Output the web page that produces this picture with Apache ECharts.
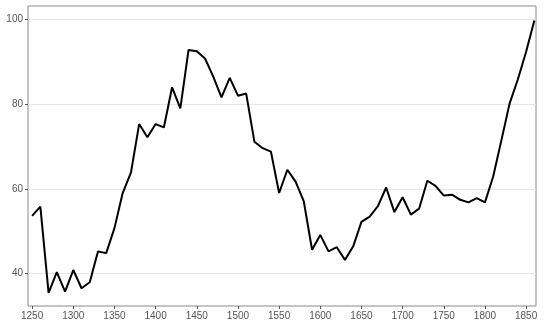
<!DOCTYPE html>
<html><head><meta charset="utf-8">
<script src="https://cdn.jsdelivr.net/npm/echarts@6/dist/echarts.min.js"></script>
<style>html,body{margin:0;padding:0;background:#fff}#c{width:546px;height:328px}</style>
</head><body><div id="c"></div>
<script>
const years = [1250,1260,1270,1280,1290,1300,1310,1320,1330,1340,1350,1360,1370,1380,1390,1400,1410,1420,1430,1440,1450,1460,1470,1480,1490,1500,1510,1520,1530,1540,1550,1560,1570,1580,1590,1600,1610,1620,1630,1640,1650,1660,1670,1680,1690,1700,1710,1720,1730,1740,1750,1760,1770,1780,1790,1800,1810,1820,1830,1840,1850,1860];
const values = [53.6,55.8,35.4,40.3,35.7,40.8,36.5,37.9,45.2,44.8,50.7,59.0,63.8,75.3,72.2,75.3,74.5,84.0,79.0,92.8,92.5,90.8,86.5,81.6,86.2,82.0,82.5,71.1,69.6,68.8,59.0,64.5,61.7,57.0,45.6,49.1,45.2,46.2,43.2,46.4,52.2,53.4,55.9,60.3,54.5,58.0,53.9,55.3,61.9,60.7,58.4,58.6,57.4,56.8,57.8,56.8,62.9,71.5,80.2,85.9,92.4,99.8];
const xTicks = [1250,1300,1350,1400,1450,1500,1550,1600,1650,1700,1750,1800,1850];
const yTicks = [40,60,80,100];

const chart = echarts.init(document.getElementById('c'), null, {renderer:'canvas'});
const lab = {color:'#555', fontSize:10, fontFamily:'Liberation Sans, Arial, sans-serif', formatter:v=>String(v)};
chart.setOption({
  animation:false,
  backgroundColor:'#fff',
  grid:{left:28, right:10, top:6, bottom:22, show:true, borderColor:'#8a8a8a', borderWidth:1, backgroundColor:'#fff'},
  xAxis:{type:'value', min:1245, max:1862,
    axisLine:{show:false},
    axisTick:{show:true, length:3, lineStyle:{color:'#555'}, customValues:xTicks},
    axisLabel:Object.assign({customValues:xTicks, margin:5}, lab),
    splitLine:{show:false}},
  yAxis:{type:'value', min:32.3, max:103.2,
    axisLine:{show:false},
    axisTick:{show:true, length:3, lineStyle:{color:'#555'}, customValues:yTicks},
    axisLabel:Object.assign({customValues:yTicks, margin:5}, lab),
    splitLine:{show:false}},
  series:[{type:'line', data:years.map((y,i)=>[y,values[i]]), showSymbol:false,
    lineStyle:{color:'#000', width:2}, z:3,
    markLine:{silent:true, symbol:'none', label:{show:false}, z:1,
      lineStyle:{color:'#e6e6e6', width:1, type:'solid'},
      data:yTicks.map(v=>({yAxis:v}))}}]
});
</script></body></html>
